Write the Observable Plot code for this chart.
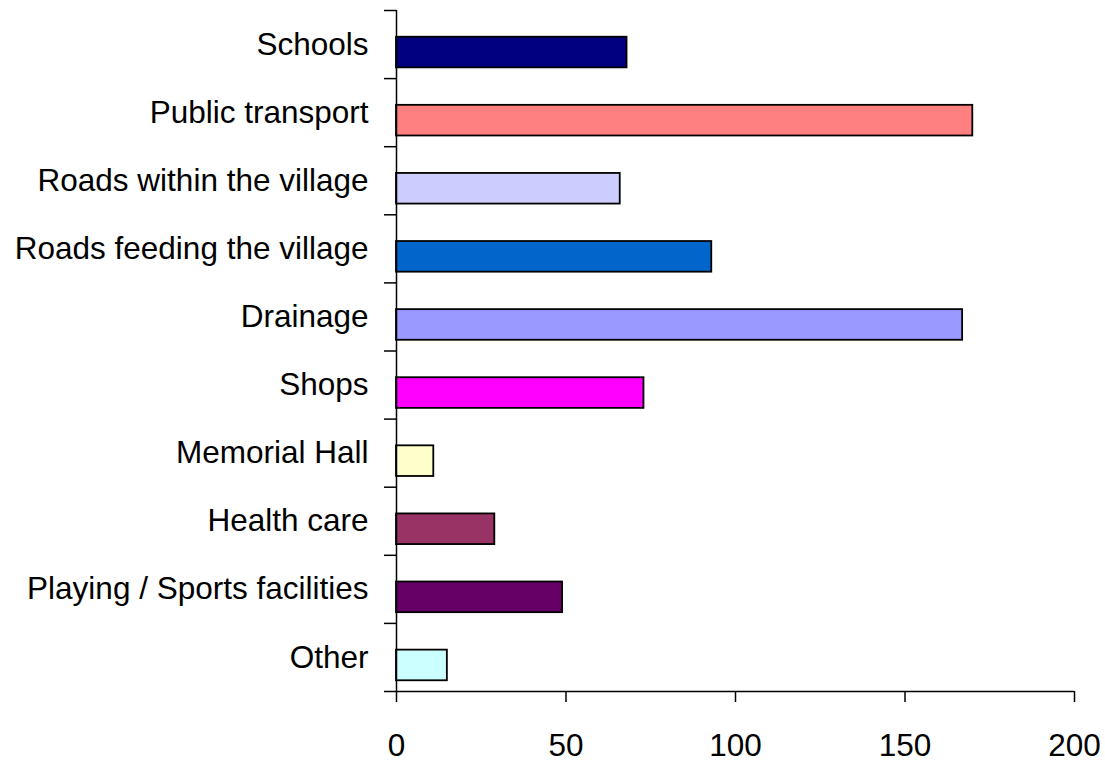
<!DOCTYPE html>
<html>
<head>
<meta charset="utf-8">
<script src="https://cdn.jsdelivr.net/npm/d3@7"></script>
<script src="https://cdn.jsdelivr.net/npm/@observablehq/plot@0.6"></script>
<style>
  html, body { margin: 0; padding: 0; background: #ffffff; }
  #chart { width: 1105px; height: 764px; }
</style>
</head>
<body>
<div id="chart"></div>
<script>
// ---- Data ----
const categories = [
  "Schools",
  "Public transport",
  "Roads within the village",
  "Roads feeding the village",
  "Drainage",
  "Shops",
  "Memorial Hall",
  "Health care",
  "Playing / Sports facilities",
  "Other"
];
const values = [68, 170, 66, 93, 167, 73, 11, 29, 49, 15];
const barColors = [
  "#000080", "#FF8080", "#CCCCFF", "#0066CC", "#9999FF",
  "#FF00FF", "#FFFFCC", "#993366", "#660066", "#CCFFFF"
];
const xTicks = [0, 50, 100, 150, 200];
const xDomain = [0, 200];

// ---- Layout ----
const W = 1105, H = 764;
const mL = 396, mR = 31, mT = 10, mB = 73;
const step = (H - mT - mB) / categories.length;
const unitsPerPx = (xDomain[1] - xDomain[0]) / (W - mL - mR);
const tickLenUnits = 12 * unitsPerPx;

const data = categories.map((c, i) => ({category: c, value: values[i], color: barColors[i]}));
const lastCat = [categories[categories.length - 1]];

const chart = Plot.plot({
  width: W,
  height: H,
  marginLeft: mL,
  marginRight: mR,
  marginTop: mT,
  marginBottom: mB,
  style: {
    fontFamily: "'Liberation Sans', Arial, Helvetica, sans-serif",
    fontSize: "31.5px",
    background: "#ffffff",
    color: "#000000",
    overflow: "visible"
  },
  x: {domain: xDomain},
  y: {domain: categories, paddingInner: 0.55, paddingOuter: 0.275, round: false},
  color: {type: "identity"},
  marks: [
    Plot.barX(data, {
      x: "value", y: "category", fill: "color",
      stroke: "#000000", strokeWidth: 1.8, dy: 8
    }),
    // category boundary tick marks (left of y axis)
    Plot.ruleY(categories, {
      y: d => d, x1: -tickLenUnits, x2: 0, dy: -step / 2,
      stroke: "#000000", strokeWidth: 1.5
    }),
    // bottom boundary tick + x axis line
    Plot.ruleY(lastCat, {
      y: d => d, x1: -tickLenUnits, x2: xDomain[1], dy: step / 2,
      stroke: "#000000", strokeWidth: 1.5
    }),
    // y axis line
    Plot.ruleX([0], {stroke: "#000000", strokeWidth: 1.5}),
    Plot.axisY({tickSize: 0, tickPadding: 28, label: null}),
    Plot.axisX({ticks: xTicks, tickSize: 11, tickPadding: 31, label: null, strokeWidth: 1.5})
  ]
});

document.getElementById("chart").appendChild(chart);
</script>
</body>
</html>
